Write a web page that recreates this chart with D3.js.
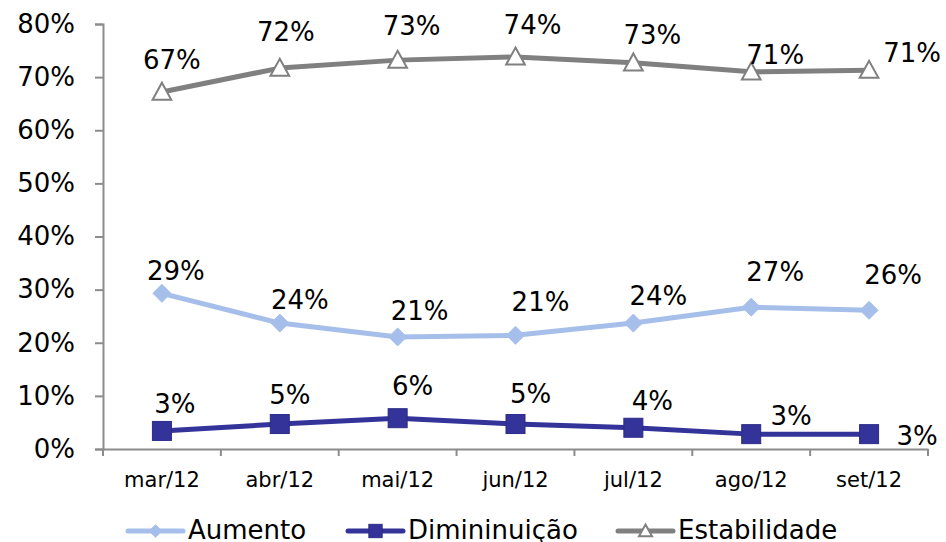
<!DOCTYPE html>
<html><head><meta charset="utf-8">
<script src="https://cdn.jsdelivr.net/npm/d3@7"></script>
<style>body{margin:0;background:#fff}svg{display:block;font-family:"DejaVu Sans",Verdana,sans-serif}</style>
</head><body><svg id="c" width="946" height="542"></svg>
<script>
const categories = ["mar/12","abr/12","mai/12","jun/12","jul/12","ago/12","set/12"];
const aumento     = [0.293,0.237,0.211,0.214,0.237,0.267,0.261];
const diminuicao  = [0.034,0.047,0.058,0.047,0.040,0.028,0.028];
const estabilidade= [0.672,0.717,0.732,0.738,0.727,0.710,0.713];
const yTicks = [0,0.1,0.2,0.3,0.4,0.5,0.6,0.7,0.8];
const seriesNames = ["Aumento","Dimininuição","Estabilidade"];
// label placement offsets (layout only)
const offAum = [[14,-22],[20,-23],[22,-26],[25,-33],[25,-27],[24,-35],[24,-35]];
const offDim = [[13,-27],[10,-29],[15,-32],[15,-30],[19,-27],[40,-18],[48,2]];
const offEst = [[10,-32],[6,-36],[14,-34],[17,-32],[19,-28],[24,-17],[43,-17]];

const svg = d3.select("#c");
const pL=103,pR=928,pT=24,pB=449;
const xb = d3.scaleBand().domain(categories).range([pL,pR]);
const x = c => xb(c)+xb.bandwidth()/2;
const y = d3.scaleLinear().domain([0,0.8]).range([pB,pT]);
const axisCol="#8c8c8c";

// y axis
const ya = svg.append("g").attr("transform",`translate(${pL},0)`)
  .call(d3.axisLeft(y).tickValues(yTicks).tickFormat(d3.format(".0%")).tickSize(8).tickPadding(20));
ya.select(".domain").attr("stroke",axisCol).attr("stroke-width",2);
ya.selectAll(".tick line").attr("stroke",axisCol).attr("stroke-width",2);
ya.selectAll(".tick text").attr("font-size",26).attr("fill","#000").attr("font-family","DejaVu Sans");

// x axis
const xa = svg.append("g").attr("transform",`translate(0,${pB})`)
  .call(d3.axisBottom(xb).tickSize(0).tickPadding(23));
xa.select(".domain").attr("stroke",axisCol).attr("stroke-width",2);
xa.selectAll(".tick text").attr("font-size",21).attr("fill","#000").attr("font-family","DejaVu Sans");
const bounds = categories.map(c=>xb(c)).concat([pR]);
svg.append("g").selectAll("line").data(bounds).join("line")
  .attr("x1",d=>d).attr("x2",d=>d).attr("y1",pB).attr("y2",pB+7)
  .attr("stroke",axisCol).attr("stroke-width",2);

const series = [
  {name:seriesNames[0], vals:aumento, col:"#a6bfea", marker:"diamond", off:offAum},
  {name:seriesNames[1], vals:diminuicao, col:"#333399", marker:"square", off:offDim},
  {name:seriesNames[2], vals:estabilidade, col:"#808080", marker:"triangle", off:offEst}
];

function drawMarker(g, type, col, cx, cy, k){
  k = k||1;
  if(type==="diamond"){
    const r=9*k;
    g.append("path").attr("d",`M${cx},${cy-r}L${cx+r},${cy}L${cx},${cy+r}L${cx-r},${cy}Z`).attr("fill",col).attr("stroke",col).attr("stroke-width",1);
  } else if(type==="square"){
    const r=9.5*k;
    g.append("rect").attr("x",cx-r).attr("y",cy-r).attr("width",2*r).attr("height",2*r).attr("fill",col).attr("stroke","#2c2c8a").attr("stroke-width",1);
  } else {
    const h=17*k;
    g.append("path").attr("d",`M${cx},${cy-h*0.55}L${cx+h*0.55},${cy+h*0.45}L${cx-h*0.55},${cy+h*0.45}Z`).attr("fill","#fff").attr("stroke",col).attr("stroke-width",2);
  }
}

const line = d3.line().x((d,i)=>x(categories[i])).y(d=>y(d));
series.forEach(s=>{
  const g = svg.append("g");
  g.append("path").datum(s.vals).attr("d",line).attr("fill","none").attr("stroke",s.col).attr("stroke-width",5).attr("stroke-linejoin","round");
  s.vals.forEach((v,i)=>drawMarker(g,s.marker,s.col,x(categories[i]),y(v)));
  g.selectAll("text").data(s.vals).join("text")
    .attr("x",(d,i)=>x(categories[i])+s.off[i][0])
    .attr("y",(d,i)=>y(d)+s.off[i][1])
    .attr("text-anchor","middle").attr("dominant-baseline","central")
    .attr("font-size",26).attr("fill","#000")
    .text(d=>d3.format(".0%")(d));
});

// legend
const legX=[128,348,618];
series.forEach((s,i)=>{
  const g=svg.append("g");
  const ly=531;
  g.append("line").attr("x1",legX[i]).attr("x2",legX[i]+55).attr("y1",ly).attr("y2",ly).attr("stroke",s.col).attr("stroke-width",5).attr("stroke-linecap","round");
  drawMarker(g,s.marker,s.col,legX[i]+27.5,ly,0.7);
  g.append("text").attr("x",legX[i]+60).attr("y",539).attr("font-size",26).attr("fill","#000").text(s.name);
});
</script></body></html>
